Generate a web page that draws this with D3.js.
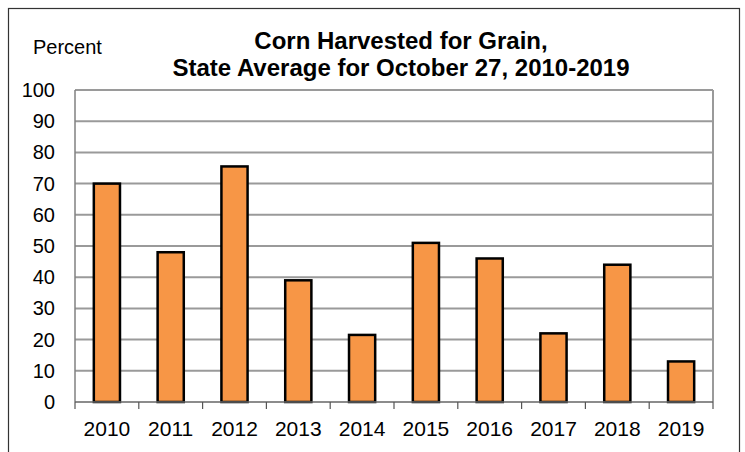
<!DOCTYPE html>
<html>
<head>
<meta charset="utf-8">
<title>Corn Harvested for Grain</title>
<script src="https://d3js.org/d3.v7.min.js"></script>
<style>
  body { margin: 0; background: #fff; }
  text { font-family: "Liberation Sans", Arial, sans-serif; fill: #000; }
</style>
</head>
<body>
<div id="chart"></div>
<script>
let years = ['2010','2011','2012','2013','2014','2015','2016','2017','2018','2019'];
let pct = [70, 48, 75.5, 39, 21.5, 51, 46, 22, 44, 13];
let yTicks = [0,10,20,30,40,50,60,70,80,90,100];
let titleLines = ['Corn Harvested for Grain,', 'State Average for October 27, 2010-2019'];

let svgw = 745, svgh = 452;
let margen = {sup:90, inf:50, izq:75, der:32};
let vizw = svgw - margen.izq - margen.der;
let vizh = svgh - margen.sup - margen.inf;

let svg = d3.select('#chart').append('svg')
  .attr('width', svgw).attr('height', svgh);

// outer frame
svg.append('rect')
  .attr('x', 8.5).attr('y', 8.5)
  .attr('width', 731).attr('height', 460)
  .attr('fill', 'none').attr('stroke', '#333').attr('stroke-width', 1.2);

let x = d3.scaleBand().domain(years).range([0, vizw]).paddingInner(0.59).paddingOuter(0.295);
let xCat = d3.scaleBand().domain(years).range([0, vizw]);
let y = d3.scaleLinear().domain([0, 100]).range([vizh, 0]);

let g = svg.append('g').attr('transform', `translate(${margen.izq},${margen.sup})`);

// gridlines
g.append('g').selectAll('line').data(yTicks.filter(d => d > 0))
  .join('line')
  .attr('x1', 0).attr('x2', vizw)
  .attr('y1', d => y(d)).attr('y2', d => y(d))
  .attr('stroke', '#9a9a9a').attr('stroke-width', 2);

// plot border (right + left)
g.append('line').attr('x1', vizw).attr('x2', vizw).attr('y1', 0).attr('y2', vizh)
  .attr('stroke', '#9a9a9a').attr('stroke-width', 2);
g.append('line').attr('x1', 0).attr('x2', 0).attr('y1', 0).attr('y2', vizh)
  .attr('stroke', '#808080').attr('stroke-width', 1.5);

// bars
g.append('g').selectAll('rect').data(years)
  .join('rect')
  .attr('x', (d) => x(d))
  .attr('width', x.bandwidth())
  .attr('y', (d, i) => y(pct[i]))
  .attr('height', (d, i) => y(0) - y(pct[i]))
  .attr('fill', '#f79646')
  .attr('stroke', '#000').attr('stroke-width', 2.5);

// x axis line and ticks between categories
g.append('line').attr('x1', 0).attr('x2', vizw).attr('y1', vizh).attr('y2', vizh)
  .attr('stroke', '#666').attr('stroke-width', 1.5);
g.append('g').selectAll('line').data(years.concat(['end']))
  .join('line')
  .attr('x1', (d, i) => i * xCat.step()).attr('x2', (d, i) => i * xCat.step())
  .attr('y1', vizh).attr('y2', vizh + 7)
  .attr('stroke', '#555').attr('stroke-width', 1.2);

// x labels
g.append('g').selectAll('text').data(years)
  .join('text')
  .attr('x', d => xCat(d) + xCat.bandwidth() / 2)
  .attr('y', vizh + 34)
  .attr('text-anchor', 'middle')
  .style('font-size', '21px')
  .text(d => d);

// y labels
g.append('g').selectAll('text').data(yTicks)
  .join('text')
  .attr('x', -20)
  .attr('y', d => y(d) + 7)
  .attr('text-anchor', 'end')
  .style('font-size', '20px')
  .text(d => d);

// title
svg.append('g').selectAll('text').data(titleLines)
  .join('text')
  .attr('x', 401)
  .attr('y', (d, i) => 49 + i * 27)
  .attr('text-anchor', 'middle')
  .style('font-size', '24px')
  .style('font-weight', 'bold')
  .text(d => d);

svg.append('text')
  .attr('x', 33).attr('y', 54)
  .style('font-size', '20px')
  .text('Percent');
</script>
</body>
</html>
